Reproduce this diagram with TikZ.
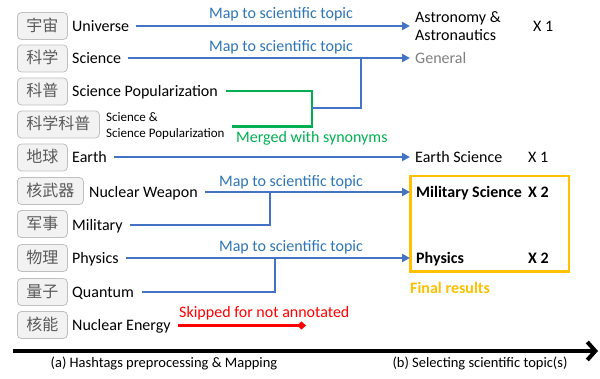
\documentclass[tikz,border=0pt]{standalone}
\usepackage{fontspec}
\setmainfont{Carlito}
\newfontfamily\cjk{Noto Sans CJK SC}
\usetikzlibrary{arrows.meta}
\definecolor{lblue}{HTML}{4472C4}
\definecolor{tblue}{HTML}{2E75B6}
\definecolor{mgreen}{HTML}{00B050}
\definecolor{fyellow}{HTML}{FFC000}
\definecolor{tagfill}{HTML}{F2F2F2}
\definecolor{tagdraw}{HTML}{BFBFBF}
\definecolor{taggray}{HTML}{595959}
\definecolor{gentext}{HTML}{808080}
\begin{document}
\begin{tikzpicture}[x=1pt,y=-1pt,
  tag/.style={draw=tagdraw, fill=tagfill, rounded corners=4pt, line width=0.8pt,
    minimum height=27pt, inner xsep=9pt, inner ysep=0pt, text height=13pt, text depth=2pt,
    anchor=west, font=\cjk\fontsize{16}{18}\selectfont, text=taggray},
  lbl/.style={anchor=west, inner sep=0pt, text height=10.3pt, text depth=0pt,
    font=\fontsize{16}{18}\selectfont},
  lblsmall/.style={anchor=west, inner sep=0pt, align=left, font=\fontsize{13}{16}\selectfont},
  tgttwo/.style={anchor=west, inner sep=0pt, align=left, font=\fontsize{16}{18}\selectfont},
  maplbl/.style={inner sep=0pt, text height=10.3pt, text depth=0pt,
    font=\fontsize{16}{18}\selectfont, text=tblue},
  caption/.style={inner sep=0pt, text height=10pt, text depth=0pt,
    font=\fontsize{14.5}{17}\selectfont},
  link/.style={draw=lblue, line width=2.5pt},
  arr/.style={link, -{Triangle[length=8pt,width=8pt]}, shorten >=5pt},
  greenlink/.style={draw=mgreen, line width=2.5pt},
  redlink/.style={draw=red, line width=2.5pt, -{Diamond[length=9pt,width=8pt]}},
]
\useasboundingbox (0,0) rectangle (600,379);

% tags
\node[tag] (t1) at (17,26) {宇宙};
\node[tag] (t2) at (17,58.5) {科学};
\node[tag] (t3) at (17,91.5) {科普};
\node[tag] (t4) at (17,124.5) {科学科普};
\node[tag] (t5) at (17,157.5) {地球};
\node[tag] (t6) at (17,191) {核武器};
\node[tag] (t7) at (17,224) {军事};
\node[tag] (t8) at (17,258) {物理};
\node[tag] (t9) at (17,292) {量子};
\node[tag] (t10) at (17,325) {核能};

% english labels
\node[lbl] (l1) at (72,26) {Universe};
\node[lbl] (l2) at (72,58) {Science};
\node[lbl] (l3) at (72,91) {Science Popularization};
\node[lblsmall] (l4) at (106,126.5) {Science \&\\Science Popularization};
\node[lbl] (l5) at (72,157) {Earth};
\node[lbl] (l6) at (89,192) {Nuclear Weapon};
\node[lbl] (l7) at (72,225) {Military};
\node[lbl] (l8) at (72,258) {Physics};
\node[lbl] (l9) at (72,292) {Quantum};
\node[lbl] (l10) at (72,325.5) {Nuclear Energy};

% targets
\node[tgttwo] (astro) at (415,26) {Astronomy \&\\Astronautics};
\node[lbl] (x1a) at (533,26) {X 1};
\node[lbl, text=gentext] (gen) at (415,58) {General};
\node[lbl] (earthsci) at (415,157) {Earth Science};
\node[lbl] (x1b) at (528,157) {X 1};
\node[draw=fyellow, line width=2.5pt, minimum width=158.5pt, minimum height=95.5pt, inner sep=0pt] (final) at (489.5,224) {};
\node[lbl, font=\fontsize{16}{18}\selectfont\bfseries] (milsci) at (416,192) {Military Science};
\node[lbl, font=\fontsize{16}{18}\selectfont\bfseries] (x2a) at (528,192) {X 2};
\node[lbl, font=\fontsize{16}{18}\selectfont\bfseries] (phys) at (416,258) {Physics};
\node[lbl, font=\fontsize{16}{18}\selectfont\bfseries] (x2b) at (528,258) {X 2};
\node[lbl, font=\fontsize{16}{18}\selectfont\bfseries, text=fyellow] (finlbl) at (410,288) {Final results};

% edge labels
\node[maplbl] (m1) at (281,13) {Map to scientific topic};
\node[maplbl] (m2) at (281,46) {Map to scientific topic};
\node[maplbl] (m3) at (291,181) {Map to scientific topic};
\node[maplbl] (m4) at (291,246) {Map to scientific topic};
\node[lbl, text=mgreen] (mg) at (236,137) {Merged with synonyms};
\node[lbl, text=red] (sk) at (179,312) {Skipped for not annotated};

% junctions
\coordinate (jg) at (312,108);
\coordinate (jb) at (361,58);
\coordinate (j1) at (270,192);
\coordinate (j2) at (275,258);
\coordinate (skipend) at (306,325.5);

% connectors
\draw[arr] ([xshift=7pt]l1.east) -- (l1.east -| astro.west);
\draw[arr] ([xshift=7pt]l2.east) -- (l2.east -| gen.west);
\draw[greenlink] ([xshift=8pt]l3.east) -| (jg) |- ([xshift=7pt]l4.east);
\draw[link] (jg) -| (jb);
\draw[arr] ([xshift=7pt]l5.east) -- (l5.east -| earthsci.west);
\draw[arr, shorten >=6pt] ([xshift=7pt]l6.east) -- (l6.east -| milsci.west);
\draw[link] ([xshift=7pt]l7.east) -| (j1);
\draw[arr, shorten >=6pt] ([xshift=7pt]l8.east) -- (l8.east -| phys.west);
\draw[link] ([xshift=8pt]l9.east) -| (j2);
\draw[redlink] ([xshift=7pt]l10.east) -- (skipend);

% timeline
\coordinate (ax0) at (13,351);
\coordinate (ax1) at (598,351);
\draw[line width=4pt, -{Straight Barb[length=8pt,width=18pt]}] (ax0) -- (ax1);
\node[caption] (capa) at (164,363) {(a) Hashtags preprocessing \& Mapping};
\node[caption] (capb) at (480,363) {(b) Selecting scientific topic(s)};
\end{tikzpicture}
\end{document}
